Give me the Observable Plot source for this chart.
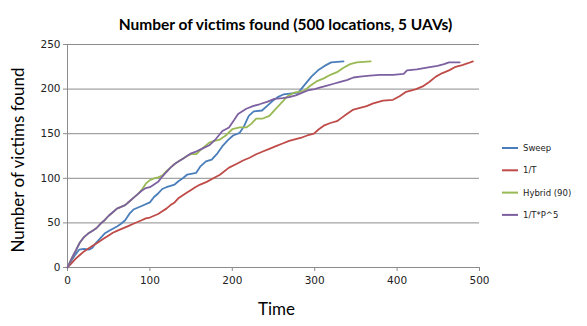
<!DOCTYPE html>
<html><head><meta charset="utf-8">
<script src="https://cdn.jsdelivr.net/npm/d3@7"></script>
<script src="https://cdn.jsdelivr.net/npm/@observablehq/plot@0.6"></script>
<style>body{margin:0;background:#fff}#chart{position:relative;width:587px;height:326px}</style>
</head><body><div id="chart"></div>
<script>
const chartTitle = "Number of victims found (500 locations, 5 UAVs)";
const xLabel = "Time";
const yLabel = "Number of victims found";
const seriesNames = ["Sweep", "1/T", "Hybrid (90)", "1/T*P^5"];
const seriesColors = ["#4A7EBB", "#BE4B48", "#98B954", "#7D60A0"];
const xTicks = [0, 100, 200, 300, 400, 500];
const yTicks = [0, 50, 100, 150, 200, 250];

const sweepT = [0,5,10,14,20,26,30,35,40,45,50,60,65,70,75,80,85,90,100,105,110,115,120,130,135,140,145,150,156,161,168,175,182,188,195,201,209,214,220,226,236,242,248,255,262,270,280,288,296,304,312,320,335];
const sweepV = [0,8,15,20,21,20,22,28,33,38,41,46,49,53,60,65,67,69,73,79,83,88,90,93,97,100,104,105,106,113,119,121,128,136,143,148,151,158,170,175,176,181,186,191,194,195,196,205,214,221,226,230,231];

const invT_T = [0,5,10,15,20,25,30,35,40,45,50,55,60,65,70,75,80,85,90,95,100,105,110,115,120,125,130,135,140,145,150,155,161,169,177,185,196,205,213,221,229,237,245,253,261,269,277,285,291,299,305,311,319,327,333,339,347,355,363,371,383,395,403,411,423,431,439,447,455,463,471,479,486,492];
const invT_V = [0,5,10,14,18,21,24,27,30,33,36,39,41,43,45,47,49,51,53,55,56,58,60,63,66,70,73,78,81,84,87,90,93,96,100,104,112,116,120,123,127,130,133,136,139,142,144,146,148,150,155,159,162,164,168,172,177,179,181,184,187,188,192,197,200,203,208,214,218,221,225,227,229,231];

const hybridT = [0,5,10,15,20,25,30,35,40,45,50,55,60,65,70,75,80,85,90,95,100,105,110,115,120,125,130,135,140,145,150,156,163,172,178,184,192,200,209,217,223,229,237,245,253,261,267,275,287,295,303,311,319,327,335,343,351,368];
const hybridV = [0,10,19,28,34,38,41,44,49,53,58,62,66,68,70,74,78,82,87,94,98,100,101,103,108,112,116,119,122,125,127,127,133,140,142,143,148,155,157,157,161,167,167,170,178,186,192,196,198,204,209,212,216,219,224,228,230,231];

const invTP5T = [0,5,10,15,20,25,30,35,40,45,50,55,60,65,70,75,80,85,90,95,100,105,110,115,120,125,130,135,140,145,150,156,163,172,180,188,196,202,207,217,225,233,243,251,261,269,277,285,293,300,307,315,323,331,339,347,355,367,379,395,408,412,424,436,449,457,463,476];
const invTP5V = [0,10,19,28,34,38,41,44,49,53,58,62,66,68,70,74,78,82,86,89,90,93,96,102,107,112,116,119,122,125,128,130,133,137,144,153,157,165,172,178,181,183,186,189,190,191,193,196,199,200,202,204,206,208,210,213,214,215,216,216,217,221,222,224,226,228,230,230];

const seriesT = [sweepT, invT_T, hybridT, invTP5T];
const seriesV = [sweepV, invT_V, hybridV, invTP5V];
const rows = seriesNames.flatMap((name, i) => seriesT[i].map((t, j) => ({series: name, t, v: seriesV[i][j]})));

const W = 587, H = 326;
const plot = Plot.plot({
  width: W, height: H,
  marginLeft: 67, marginRight: 108, marginTop: 44, marginBottom: 59,
  style: {fontFamily: "DejaVu Sans", fontSize: "10px", color: "#000", background: "#fff"},
  x: {domain: [0, 500], label: null},
  y: {domain: [0, 250], label: null},
  color: {domain: seriesNames, range: seriesColors},
  marks: [
    Plot.gridY(yTicks, {stroke: "#8c8c8c", strokeOpacity: 1, strokeWidth: 1}),
    Plot.ruleX([0], {stroke: "#8c8c8c"}),
    Plot.ruleY([0], {stroke: "#8c8c8c"}),
    Plot.axisY(yTicks, {tickSize: 4, tickPadding: 3, stroke: "#8c8c8c", fill: "#222", fontSize: 10.5, label: null}),
    Plot.axisX(xTicks, {tickSize: 4, tickPadding: 5, stroke: "#8c8c8c", fill: "#222", fontSize: 10.5, label: null}),
    Plot.line(rows, {x: "t", y: "v", z: "series", stroke: "series", strokeWidth: 1.8, curve: "linear"}),
    Plot.text([chartTitle], {text: d => d, frameAnchor: "top", textAnchor: "middle", dy: -26, dx: 12, fontFamily: "Lato", fontWeight: "bold", fontSize: 15.5, fill: "#000"}),
    Plot.text([xLabel], {text: d => d, frameAnchor: "bottom", textAnchor: "middle", dy: 47, dx: 3, fontFamily: "Lato", fontSize: 17, fill: "#000"}),
    Plot.text([yLabel], {text: d => d, frameAnchor: "left", textAnchor: "middle", rotate: -90, dx: -49, dy: 4, fontFamily: "Lato", fontSize: 17, fill: "#000"})
  ]
});
document.getElementById("chart").appendChild(plot);

// legend
const svg = d3.select(plot);
const lg = svg.append("g").attr("transform", "translate(502,148)");
seriesNames.forEach((name, i) => {
  const g = lg.append("g").attr("transform", `translate(0,${i * 22.3})`);
  g.append("line").attr("x1", 0).attr("x2", 16).attr("y1", 0).attr("y2", 0).attr("stroke", seriesColors[i]).attr("stroke-width", 2);
  g.append("text").attr("x", 21).attr("y", 0).attr("dy", "0.35em").attr("text-anchor", "start").attr("font-family", "DejaVu Sans").attr("font-size", 8.5).attr("fill", "#222").text(name);
});
</script>
</body></html>
